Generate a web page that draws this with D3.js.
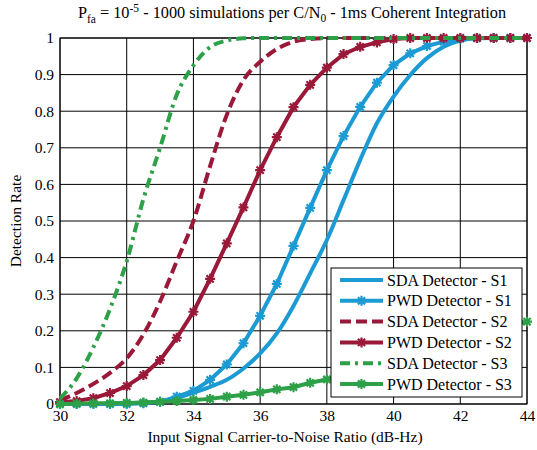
<!DOCTYPE html>
<html>
<head>
<meta charset="utf-8">
<script src="https://cdn.jsdelivr.net/npm/d3@7"></script>
<style>
  body { margin: 0; background: #fff; }
  text { font-family: "Liberation Serif", "Times New Roman", serif; fill: #000; }
</style>
</head>
<body>
<div id="chart"></div>
<script>
// Detection rate vs C/N0, 1ms coherent integration

const cn0 = [30, 30.5, 31, 31.5, 32, 32.5, 33, 33.5, 34, 34.5, 35, 35.5, 36, 36.5, 37, 37.5,
             38, 38.5, 39, 39.5, 40, 40.5, 41, 41.5, 42, 42.5, 43, 43.5, 44];

const sdaS1 = [0, 0, 0, 0.001, 0.002, 0.004, 0.007, 0.016, 0.031, 0.047, 0.066, 0.097, 0.138, 0.193, 0.268, 0.357,
               0.448, 0.557, 0.667, 0.767, 0.84, 0.899, 0.945, 0.976, 0.993, 0.999, 1, 1, 1];
const pwdS1 = [0, 0, 0, 0, 0, 0.002, 0.006, 0.02, 0.036, 0.066, 0.108, 0.166, 0.241, 0.328, 0.432, 0.536,
               0.639, 0.732, 0.812, 0.878, 0.926, 0.958, 0.978, 0.99, 0.998, 1, 1, 1, 1];
const sdaS2 = [0.01, 0.03, 0.055, 0.085, 0.125, 0.19, 0.28, 0.39, 0.5, 0.65, 0.79, 0.885, 0.935, 0.97, 0.99, 0.997,
               1, 1, 1, 1, 1, 1, 1, 1, 1, 1, 1, 1, 1];
const pwdS2 = [0.005, 0.008, 0.016, 0.03, 0.049, 0.079, 0.12, 0.181, 0.252, 0.342, 0.439, 0.537, 0.639, 0.729, 0.811, 0.872,
               0.919, 0.956, 0.976, 0.988, 0.997, 1, 1, 1, 1, 1, 1, 1, 1];
const sdaS3 = [0.015, 0.07, 0.155, 0.26, 0.39, 0.56, 0.7, 0.845, 0.925, 0.975, 0.993, 0.999, 1, 1, 1, 1,
               1, 1, 1, 1, 1, 1, 1, 1, 1, 1, 1, 1, 1];
const pwdS3 = [0, 0.001, 0.002, 0.002, 0.003, 0.004, 0.006, 0.008, 0.011, 0.014, 0.02, 0.025, 0.032, 0.04, 0.046, 0.058,
               0.067, 0.078, 0.09, 0.103, 0.117, 0.131, 0.145, 0.16, 0.175, 0.189, 0.203, 0.215, 0.225];

const xTicks = [30, 32, 34, 36, 38, 40, 42, 44];
const yTicks = [0, 0.1, 0.2, 0.3, 0.4, 0.5, 0.6, 0.7, 0.8, 0.9, 1];

const seriesNames = ["SDA Detector - S1", "PWD Detector - S1", "SDA Detector - S2",
                     "PWD Detector - S2", "SDA Detector - S3", "PWD Detector - S3"];

const blue = "#1b9ad3", red = "#9a1838", green = "#2da048";

const series = [
  { name: seriesNames[0], values: sdaS1, color: blue, dash: null, marker: false, smooth: true },
  { name: seriesNames[1], values: pwdS1, color: blue, dash: null, marker: true, smooth: false },
  { name: seriesNames[2], values: sdaS2, color: red, dash: "11,5", marker: false, smooth: true },
  { name: seriesNames[3], values: pwdS2, color: red, dash: null, marker: true, smooth: false },
  { name: seriesNames[4], values: sdaS3, color: green, dash: "10,5,3,5", marker: false, smooth: true },
  { name: seriesNames[5], values: pwdS3, color: green, dash: null, marker: true, smooth: false }
];

const width = 537, height = 450;
const margin = { left: 60, right: 10, top: 38, bottom: 46 };

const svg = d3.select("#chart").append("svg")
  .attr("width", width)
  .attr("height", height);

const x = d3.scaleLinear().domain([30, 44]).range([margin.left, width - margin.right]);
const y = d3.scaleLinear().domain([0, 1]).range([height - margin.bottom, margin.top]);

// grid
svg.append("g").selectAll("line").data(xTicks).enter().append("line")
  .attr("x1", d => x(d)).attr("x2", d => x(d))
  .attr("y1", y(0)).attr("y2", y(1))
  .attr("stroke", "#000").attr("stroke-width", 1);
svg.append("g").selectAll("line").data(yTicks).enter().append("line")
  .attr("x1", x(30)).attr("x2", x(44))
  .attr("y1", d => y(d)).attr("y2", d => y(d))
  .attr("stroke", "#000").attr("stroke-width", 1);

// axes
const xAxis = svg.append("g")
  .attr("transform", `translate(0,${y(0)})`)
  .call(d3.axisBottom(x).tickValues(xTicks).tickSize(0).tickPadding(6));
const yAxis = svg.append("g")
  .attr("transform", `translate(${x(30)},0)`)
  .call(d3.axisLeft(y).tickValues(yTicks).tickSize(0).tickPadding(6).tickFormat(d3.format("")));
[xAxis, yAxis].forEach(a => {
  a.attr("font-family", null);
  a.select(".domain").remove();
  a.selectAll("text").attr("font-size", 15.5);
});

svg.append("rect")
  .attr("x", x(30)).attr("y", y(1))
  .attr("width", x(44) - x(30)).attr("height", y(0) - y(1))
  .attr("fill", "none").attr("stroke", "#000").attr("stroke-width", 1);

// lines
const markerPath = "M0,-5V5M-5,0H5M-3.6,-3.6L3.6,3.6M-3.6,3.6L3.6,-3.6";

series.forEach(s => {
  const line = d3.line()
    .x((d, i) => x(cn0[i]))
    .y(d => y(d))
    .curve(s.smooth ? d3.curveMonotoneX : d3.curveLinear);
  svg.append("path")
    .datum(s.values)
    .attr("d", line)
    .attr("fill", "none")
    .attr("stroke", s.color)
    .attr("stroke-width", 4)
    .attr("stroke-dasharray", s.dash);
  if (s.marker) {
    svg.append("g").selectAll("path").data(s.values).enter().append("path")
      .attr("d", markerPath)
      .attr("transform", (d, i) => `translate(${x(cn0[i])},${y(d)})`)
      .attr("stroke", s.color)
      .attr("stroke-width", 2.2)
      .attr("fill", "none");
  }
});

// legend
const lg = svg.append("g").attr("transform", "translate(331,268)");
lg.append("rect")
  .attr("width", 191).attr("height", 129)
  .attr("fill", "#fff").attr("stroke", "#000").attr("stroke-width", 1);
series.forEach((s, i) => {
  const yy = 12 + i * 20.8;
  lg.append("line")
    .attr("x1", 9).attr("x2", 52).attr("y1", yy).attr("y2", yy)
    .attr("stroke", s.color).attr("stroke-width", 4)
    .attr("stroke-dasharray", s.dash);
  if (s.marker) {
    lg.append("path").attr("d", markerPath)
      .attr("transform", `translate(30.5,${yy})`)
      .attr("stroke", s.color).attr("stroke-width", 2.2).attr("fill", "none");
  }
  lg.append("text")
    .attr("x", 56).attr("y", yy + 5.5)
    .attr("font-size", 16)
    .text(s.name);
});

// title and labels
const title = svg.append("text")
  .attr("x", 292).attr("y", 18)
  .attr("text-anchor", "middle").attr("font-size", 16.3);
title.append("tspan").text("P");
title.append("tspan").attr("font-size", 11.5).attr("dy", 5).text("fa");
title.append("tspan").attr("dy", -5).text(" = 10");
title.append("tspan").attr("font-size", 11.5).attr("dy", -6).text("-5");
title.append("tspan").attr("dy", 6).text(" - 1000 simulations per C/N");
title.append("tspan").attr("font-size", 11.5).attr("dy", 4).text("0");
title.append("tspan").attr("dy", -4).text(" - 1ms Coherent Integration");

svg.append("text")
  .attr("x", 285).attr("y", 442)
  .attr("text-anchor", "middle").attr("font-size", 15.5)
  .text("Input Signal Carrier-to-Noise Ratio (dB-Hz)");

svg.append("text")
  .attr("transform", `translate(21,${(y(0) + y(1)) / 2}) rotate(-90)`)
  .attr("text-anchor", "middle").attr("font-size", 15.5)
  .text("Detection Rate");
</script>
</body>
</html>
